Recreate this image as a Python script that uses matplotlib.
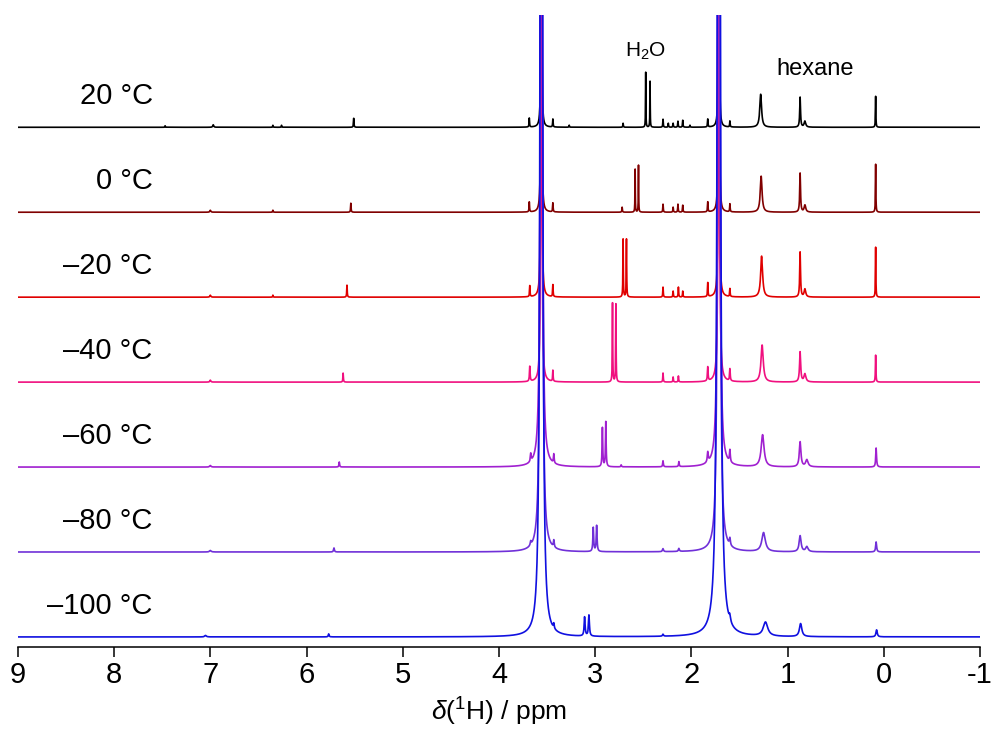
import numpy as np
import matplotlib.pyplot as plt

plt.rcParams['font.family'] = ['Liberation Sans', 'DejaVu Sans']
plt.rcParams['mathtext.fontset'] = 'custom'
plt.rcParams['mathtext.rm'] = 'Liberation Sans'
plt.rcParams['mathtext.it'] = 'Liberation Sans:italic'
plt.rcParams['axes.unicode_minus'] = False

# temperature labels, top to bottom
temps = ['20 °C', '0 °C', '–20 °C', '–40 °C', '–60 °C', '–80 °C', '–100 °C']
colors = ['#000000', '#800000', '#e00000', '#f0107f', '#a020d0', '#7030d8', '#1010e0']

# peaks: (shift / ppm, height, half width / ppm)
peaks_20 = [(7.47, 1.5, 0.003), (6.97, 2.5, 0.006), (6.35, 2, 0.003), (6.26, 2, 0.003),
            (5.51, 9, 0.003), (3.685, 9, 0.003), (3.56, 3000, 0.0013), (3.44, 8, 0.003),
            (3.27, 2, 0.003), (2.71, 4, 0.003), (2.475, 55, 0.002), (2.43, 46, 0.002),
            (2.295, 8, 0.003), (2.24, 4, 0.003), (2.19, 4, 0.003), (2.14, 6, 0.003),
            (2.09, 7, 0.003), (2.015, 2, 0.003), (1.83, 8, 0.003), (1.715, 3000, 0.0013),
            (1.60, 6, 0.003), (1.28, 33, 0.011), (0.87, 30, 0.005), (0.82, 6, 0.01),
            (0.085, 31, 0.0025)]
peaks_0 = [(7.0, 2, 0.006), (6.35, 2, 0.003), (5.54, 9, 0.003), (3.685, 10, 0.003),
           (3.56, 3000, 0.0015), (3.44, 9, 0.003), (2.72, 5, 0.003), (2.585, 43, 0.002),
           (2.55, 47, 0.002), (2.295, 8, 0.003), (2.19, 5, 0.003), (2.14, 8, 0.003),
           (2.09, 7, 0.003), (1.83, 10, 0.003), (1.715, 3000, 0.0015), (1.60, 8, 0.003),
           (1.275, 36, 0.011), (0.87, 39, 0.005), (0.82, 7, 0.01), (0.085, 48, 0.0025)]
peaks_m20 = [(7.0, 2, 0.006), (6.35, 2, 0.003), (5.58, 12, 0.003), (3.68, 11, 0.003),
             (3.56, 3000, 0.0018), (3.44, 12, 0.003), (2.71, 58, 0.0025), (2.675, 58, 0.0025),
             (2.295, 10, 0.003), (2.19, 6, 0.003), (2.135, 10, 0.003), (2.09, 6, 0.003),
             (1.83, 14, 0.003), (1.715, 3000, 0.0018), (1.60, 8, 0.003), (1.27, 41, 0.012),
             (0.87, 45, 0.005), (0.82, 8, 0.01), (0.085, 50, 0.0025)]
peaks_m40 = [(7.0, 2, 0.006), (5.62, 9, 0.003), (3.68, 15, 0.004), (3.56, 3000, 0.0022),
             (3.44, 11, 0.003), (2.82, 79, 0.0025), (2.785, 78, 0.0025), (2.295, 9, 0.003),
             (2.19, 5, 0.003), (2.135, 6, 0.003), (1.83, 14, 0.004), (1.715, 3000, 0.0026),
             (1.60, 12, 0.004), (1.265, 37, 0.014), (0.87, 30, 0.007), (0.82, 8, 0.012),
             (0.085, 27, 0.003)]
peaks_m60 = [(7.0, 1.5, 0.008), (5.66, 5, 0.004), (3.67, 8, 0.005), (3.56, 3000, 0.005),
             (3.43, 9, 0.004), (2.925, 39, 0.004), (2.89, 45, 0.004), (2.73, 2, 0.004),
             (2.295, 6, 0.004), (2.13, 5, 0.004), (1.83, 10, 0.006), (1.715, 3000, 0.005),
             (1.60, 12, 0.005), (1.26, 32, 0.018), (0.87, 25, 0.01), (0.80, 7, 0.015),
             (0.08, 19, 0.005)]
peaks_m80 = [(7.0, 1.5, 0.01), (5.715, 4, 0.005), (3.67, 4, 0.006), (3.56, 3000, 0.0055),
             (3.43, 7, 0.005), (3.02, 24, 0.005), (2.985, 26, 0.005), (2.295, 3, 0.006),
             (2.13, 3, 0.006), (1.715, 3000, 0.0058), (1.60, 7, 0.006), (1.25, 19, 0.022),
             (0.87, 16, 0.012), (0.80, 5, 0.015), (0.08, 10, 0.006)]
peaks_m100 = [(7.05, 1.5, 0.01), (5.77, 3, 0.005), (3.56, 3000, 0.0072), (3.43, 5, 0.005),
              (3.11, 19, 0.006), (3.065, 21, 0.006), (2.295, 2, 0.006), (1.715, 3000, 0.0088),
              (1.60, 6, 0.008), (1.23, 14, 0.028), (0.865, 13, 0.015), (0.075, 7, 0.008)]

spectra = [peaks_20, peaks_0, peaks_m20, peaks_m40, peaks_m60, peaks_m80, peaks_m100]
xticks = [9, 8, 7, 6, 5, 4, 3, 2, 1, 0, -1]

ppm = np.linspace(-1, 9, 40001)


def lorentz_sum(peaks):
    y = np.zeros_like(ppm)
    for pos, h, w in peaks:
        y += h * w ** 2 / ((ppm - pos) ** 2 + w ** 2)
    return y


fig = plt.figure(figsize=(9.97, 7.31), dpi=100)
ax = fig.add_axes([0.018, 0.115, 0.965, 0.864])

step = 85
n = len(spectra)
for i, (lab, col, pk) in enumerate(zip(temps, colors, spectra)):
    off = step * (n - 1 - i)
    ax.plot(ppm, lorentz_sum(pk) + off, color=col, lw=1.2)
    ax.text(7.6, off + 31, lab, ha='right', va='center', fontsize=21)

ax.text(2.48, 586, 'H$_2$O', ha='center', va='center', fontsize=15)
ax.text(0.715, 568, 'hexane', ha='center', va='center', fontsize=17)

ax.set_xlim(9, -1)
ax.set_ylim(-10, 622)
for s in ['left', 'right', 'top']:
    ax.spines[s].set_visible(False)
ax.spines['bottom'].set_linewidth(1.1)
ax.set_yticks([])
ax.set_xticks(xticks)
ax.set_xticklabels([str(t) for t in xticks])
ax.tick_params(axis='x', direction='out', length=7, width=1.1, labelsize=21, pad=3)
ax.set_xlabel(r'$\delta$($^{1}$H) / ppm', fontsize=19, labelpad=5)

fig.savefig('out.png', dpi=100)
